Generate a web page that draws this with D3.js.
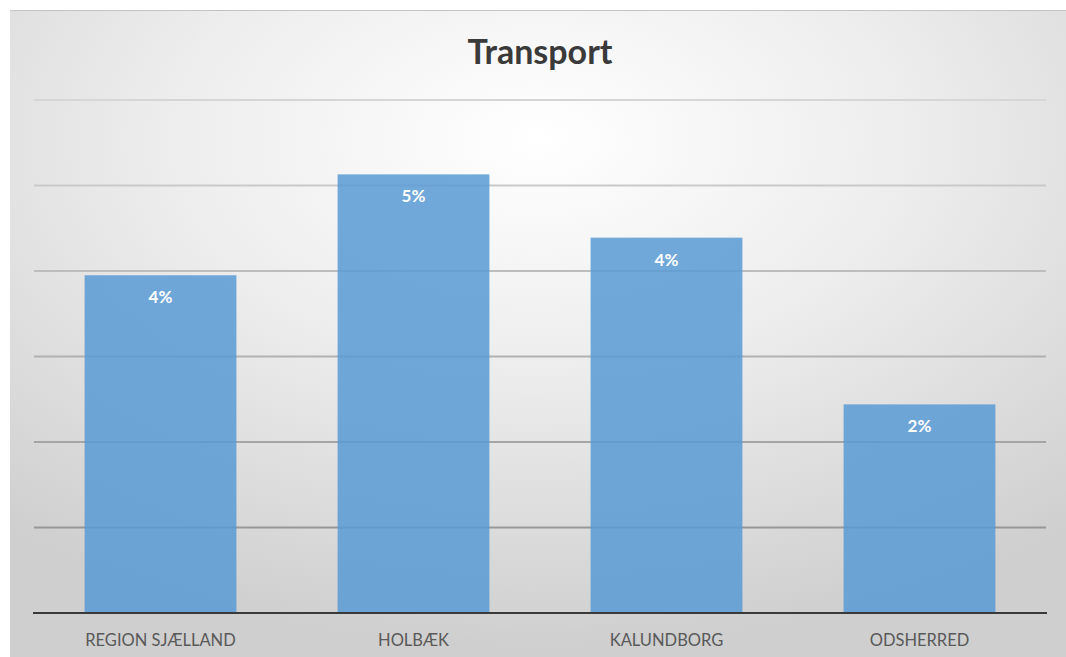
<!DOCTYPE html>
<html>
<head>
<meta charset="utf-8">
<script src="https://cdn.jsdelivr.net/npm/d3@7"></script>
<style>
    body { margin: 0; background: #ffffff; }
    svg { display: block; }
</style>
</head>
<body>
<svg id="chart" width="1066" height="657"></svg>
<script>
    var categories = ["REGION SJÆLLAND", "HOLBÆK", "KALUNDBORG", "ODSHERRED"];
    var values = [0.0395, 0.0513, 0.0439, 0.0244];
    var yTicks = [0, 0.01, 0.02, 0.03, 0.04, 0.05, 0.06];
    var chartTitle = "Transport";

    var svg = d3.select("#chart");
    var defs = svg.append("defs");

    // soft radial background like the office chart area
    var grad = defs.append("radialGradient")
        .attr("id", "bg")
        .attr("cx", "50%").attr("cy", "20%")
        .attr("r", "78%")
        .attr("gradientUnits", "objectBoundingBox");
    grad.append("stop").attr("offset", "0%").attr("stop-color", "#ffffff");
    grad.append("stop").attr("offset", "45%").attr("stop-color", "#ededed");
    grad.append("stop").attr("offset", "100%").attr("stop-color", "#cfcfcf");

    svg.append("rect")
        .attr("x", 10).attr("y", 10)
        .attr("width", 1056).attr("height", 647)
        .attr("fill", "url(#bg)");
    svg.append("line")
        .attr("x1", 10).attr("x2", 1066)
        .attr("y1", 10.5).attr("y2", 10.5)
        .style("stroke", "#c4c4c4")
        .style("stroke-width", 1);

    var x = d3.scaleBand()
        .domain(categories)
        .range([34, 1046])
        .paddingInner(0.4)
        .paddingOuter(0.2);

    var y = d3.scaleLinear()
        .domain([0, 0.06])
        .range([613, 100]);

    var gridColor = d3.scaleLinear()
        .domain([100, 613])
        .range(["#d6d6d6", "#8c8c8c"]);

    // gridlines
    svg.selectAll(".grid")
        .data(yTicks.filter(function(d) { return d > 0; }))
        .enter()
        .append("line")
        .attr("class", "grid")
        .attr("x1", 34).attr("x2", 1046)
        .attr("y1", function(d) { return y(d); })
        .attr("y2", function(d) { return y(d); })
        .style("stroke", function(d) { return gridColor(y(d)); })
        .style("stroke-width", 2);

    // bars
    svg.selectAll(".bar")
        .data(values)
        .enter()
        .append("rect")
        .attr("class", "bar")
        .attr("x", function(d, i) { return x(categories[i]); })
        .attr("y", function(d) { return y(d); })
        .attr("width", x.bandwidth())
        .attr("height", function(d) { return y(0) - y(d); })
        .attr("fill", "#5b9bd5")
        .attr("fill-opacity", 0.86);

    // baseline
    svg.append("line")
        .attr("x1", 33).attr("x2", 1047)
        .attr("y1", y(0)).attr("y2", y(0))
        .style("stroke", "#3a3a3a")
        .style("stroke-width", 2);

    // value labels inside bars
    var fmt = d3.format(".0%");
    svg.selectAll(".label")
        .data(values)
        .enter()
        .append("text")
        .attr("class", "label")
        .attr("x", function(d, i) { return x(categories[i]) + x.bandwidth() / 2; })
        .attr("y", function(d) { return y(d) + 28; })
        .attr("text-anchor", "middle")
        .style("font-family", "Lato, sans-serif")
        .style("font-weight", "bold")
        .style("font-size", "17px")
        .style("fill", "#ffffff")
        .text(function(d) { return fmt(d); });

    // category axis, ticks hidden
    var xaxis = svg.append("g")
        .attr("transform", "translate(0," + y(0) + ")")
        .call(d3.axisBottom(x).tickSize(0).tickPadding(21));
    xaxis.select(".domain").remove();
    xaxis.selectAll("text")
        .style("font-family", "Lato, sans-serif")
        .style("font-size", "16.5px")
        .style("fill", "#595959");

    svg.append("text")
        .attr("x", 540)
        .attr("y", 64)
        .attr("text-anchor", "middle")
        .style("font-family", "Lato, sans-serif")
        .style("font-weight", "bold")
        .style("font-size", "34px")
        .style("fill", "#3a3a3a")
        .text(chartTitle);
</script>
</body>
</html>
